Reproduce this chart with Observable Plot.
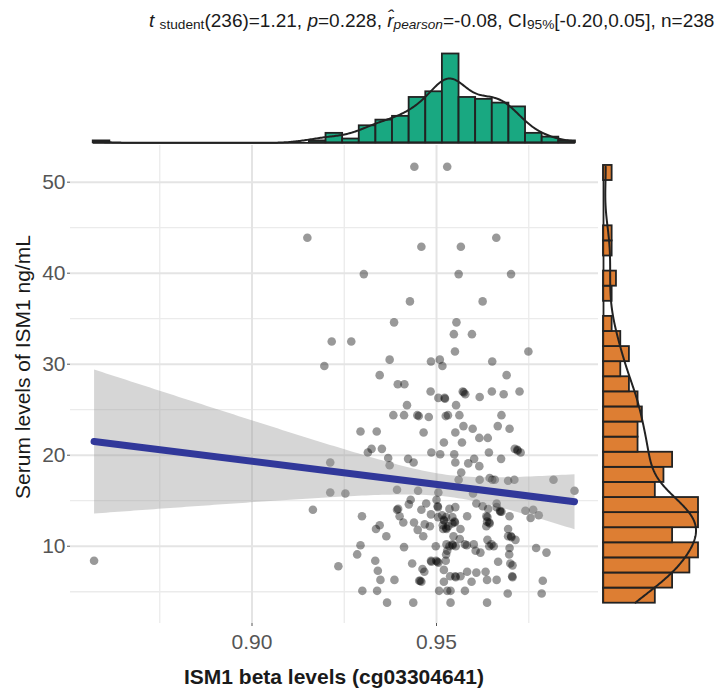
<!DOCTYPE html>
<html>
<head>
<meta charset="utf-8">
<script src="https://cdn.jsdelivr.net/npm/d3@7"></script>
<script src="https://cdn.jsdelivr.net/npm/@observablehq/plot@0.6"></script>
<style>
  html, body { margin: 0; padding: 0; background: #fff; }
  #wrap { position: relative; width: 725px; height: 694px; overflow: hidden; font-family: "Liberation Sans", Arial, Helvetica, sans-serif; }
  #wrap svg { position: absolute; left: 0; top: 0; }
  .txt { position: absolute; white-space: nowrap; color: #1a1a1a; }
  .sub { font-size: 0.72em; vertical-align: -0.18em; }
</style>
</head>
<body>
<div id="wrap">
  <div class="txt" id="title" style="left:149px; top:11px; font-size:19px; line-height:19px;"><i>t</i> <span class="sub">student</span>(236)=1.21, <i>p</i>=0.228, <i>r&#770;</i><span class="sub"><i>pearson</i></span>=-0.08, CI<span class="sub">95%</span>[-0.20,0.05], n=238</div>
  <div class="txt" id="ytitle" style="left:21.5px; top:367px; font-size:21px; line-height:21px; transform: translate(-50%,-50%) rotate(-90deg);">Serum levels of ISM1 ng/mL</div>
  <div class="txt" id="xtitle" style="left:334px; top:666px; font-size:21px; line-height:21px; font-weight:bold; transform: translateX(-50%);">ISM1 beta levels (cg03304641)</div>
</div>
<script>
// ---- data ----
const xVals = [0.9440,0.9529,0.9150,0.9662,0.9459,0.9566,0.9303,0.9560,0.9702,0.9428,
0.9625,0.9385,0.9554,0.9547,0.9596,0.9216,0.9269,0.9550,0.9749,0.9373,
0.9485,0.9509,0.9651,0.9196,0.9516,0.9346,0.9690,0.9395,0.9413,0.9484,
0.9571,0.9578,0.9650,0.9682,0.9725,0.9505,0.9522,0.9617,0.8572,0.9420,
0.9553,0.9383,0.9412,0.9448,0.9452,0.9479,0.9525,0.9531,0.9562,0.9676,
0.9573,0.9666,0.9294,0.9338,0.9465,0.9551,0.9598,0.9698,0.9616,0.9639,
0.9520,0.9569,0.9324,0.9352,0.9314,0.9712,0.9719,0.9728,0.9486,0.9510,
0.9548,0.9642,0.9369,0.9423,0.9602,0.9675,0.9212,0.9373,0.9438,0.9551,
0.9586,0.9616,0.9567,0.9560,0.9617,0.9644,0.9651,0.9658,0.9694,0.9711,
0.9817,0.9874,0.9212,0.9253,0.9393,0.9450,0.9505,0.9599,0.9165,0.9430,
0.9425,0.9393,0.9396,0.9459,0.9472,0.9500,0.9503,0.9535,0.9551,0.9608,
0.9625,0.9663,0.9663,0.9672,0.9676,0.9640,0.9741,0.9762,0.9755,0.9777,
0.9298,0.9400,0.9485,0.9504,0.9515,0.9520,0.9526,0.9543,0.9549,0.9583,
0.9635,0.9637,0.9698,0.9410,0.9439,0.9449,0.9468,0.9482,0.9517,0.9526,
0.9532,0.9543,0.9565,0.9635,0.9643,0.9346,0.9336,0.9364,0.9464,0.9518,
0.9546,0.9694,0.9694,0.9702,0.9714,0.9563,0.9638,0.9294,0.9412,0.9498,
0.9527,0.9535,0.9543,0.9552,0.9577,0.9601,0.9606,0.9619,0.9643,0.9649,
0.9655,0.9698,0.9697,0.9770,0.9798,0.9285,0.9529,0.9526,0.9334,0.9434,
0.9485,0.9499,0.9505,0.9525,0.9667,0.9700,0.9706,0.9234,0.9341,0.9462,
0.9467,0.9520,0.9537,0.9551,0.9565,0.9583,0.9608,0.9633,0.9663,0.9705,
0.9348,0.9386,0.9453,0.9459,0.9520,0.9595,0.9637,0.9788,0.9299,0.9339,
0.9507,0.9529,0.9538,0.9577,0.9693,0.9785,0.9366,0.9437,0.9538,0.9637,
0.9504,0.9502,0.9456,0.9706,0.9720,0.9673,0.9703,0.9523,0.9574,0.9521,
0.9544,0.9644,0.9552,0.9527,0.9486,0.9582,0.9638,0.9550];

const yVals = [51.7,51.7,43.9,43.9,42.9,42.9,39.9,39.9,39.9,36.9,
36.9,34.6,34.6,33.3,33.3,32.5,32.5,31.4,31.4,30.5,
30.3,30.5,30.3,29.8,29.8,28.8,28.8,27.8,27.8,27.0,
27.0,26.7,27.0,26.7,27.0,26.3,26.3,26.4,8.4,25.5,
25.5,24.4,24.4,24.4,24.3,24.2,24.3,24.4,24.4,24.4,
23.2,23.2,22.6,22.6,22.5,22.5,22.9,22.9,21.9,21.9,
21.4,21.4,20.7,20.7,20.3,20.7,20.6,20.3,20.3,20.1,
20.1,20.3,19.7,19.6,19.6,19.6,19.2,18.9,19.2,19.2,
19.1,18.8,18.1,17.3,17.3,17.5,17.3,17.3,17.2,17.3,
17.3,16.1,15.9,15.8,16.2,16.1,15.9,15.8,14.0,15.1,
14.6,14.0,14.1,14.0,14.7,15.1,14.4,14.1,14.3,14.7,
14.4,14.7,14.3,13.9,13.8,14.1,13.9,14.0,13.1,13.4,
13.3,13.3,13.5,13.2,13.4,12.9,13.2,13.2,12.7,13.3,
13.3,12.7,13.3,12.6,12.6,11.8,12.4,12.2,12.3,12.0,
12.2,12.5,11.9,12.2,12.6,12.3,11.9,11.1,11.1,11.9,
11.1,11.9,11.1,11.1,10.7,10.8,10.7,10.1,9.9,10.0,
10.2,10.0,10.2,10.0,10.2,10.2,9.5,9.3,10.0,10.2,
10.0,9.8,9.1,9.8,9.3,9.1,9.5,9.1,8.4,8.1,
8.4,8.4,8.2,8.4,8.3,8.1,7.9,7.8,7.3,7.5,
7.2,7.4,6.7,6.7,6.7,7.2,7.1,7.2,6.3,6.7,
6.3,6.3,6.2,6.1,6.1,6.1,6.3,6.2,5.1,5.1,
5.1,5.1,5.1,5.1,4.8,4.8,3.8,3.8,3.8,3.8,
14.3,8.3,6.2,6.6,20.5,13.8,11.0,26.2,26.9,12.8,
10.1,12.5,6.6,11.9,8.3,10.1,13.2,12.6];

// marginal histogram of x (left to right)
const xBinStart = 0.85697;
const xBinWidth = 0.004506;
const xBinCounts = [1,0,0,0,0,0,0,0,0,0,0,0,0,1,5,2,9,12,14,24,27,47,24,23,21,19,5,3,1];

// marginal histogram of y (bottom to top)
const yBinStart = 3.74;
const yBinWidth = 1.6586;
const yBinCounts = [12,16,20,22,16,22,22,12,14,16,8,8,9,8,6,4,6,4,2,0,2,3,0,2,2,0,0,0,2];

// axis ticks and grid
const xTicks = [0.90, 0.95];
const xMinor = [0.875, 0.925, 0.975];
const yTicks = [10, 20, 30, 40, 50];
const yMinor = [5, 15, 25, 35, 45];

const xDomain = [0.85081, 0.9939];
const yDomain = [1.51, 54.03];

// ---- derived tables ----
const points = xVals.map((x, i) => ({x, y: yVals[i]}));
const xBins = xBinCounts.map((c, i) => ({lo: xBinStart + i * xBinWidth, hi: xBinStart + (i + 1) * xBinWidth, count: c}));
const yBins = yBinCounts.map((c, i) => ({lo: yBinStart + i * yBinWidth, hi: yBinStart + (i + 1) * yBinWidth, count: c}));

function kde(values, scale) {
  const n = values.length;
  const sd = d3.deviation(values);
  const iqr = d3.quantile(values, 0.75) - d3.quantile(values, 0.25);
  const bw = 0.9 * Math.min(sd, iqr / 1.34) * Math.pow(n, -0.2);
  const [a, b] = d3.extent(values);
  const m = 400;
  return d3.range(m).map(i => {
    const t = a + (b - a) * i / (m - 1);
    const d = d3.sum(values, v => Math.exp(-0.5 * ((t - v) / bw) ** 2)) / (n * bw * Math.sqrt(2 * Math.PI));
    return {t, d: d * n * scale};
  });
}
const xDens = kde(xVals, xBinWidth);
const yDens = kde(yVals, yBinWidth);

const wrapEl = document.getElementById("wrap");
const fontStack = '"Liberation Sans", Arial, Helvetica, sans-serif';

// ---- main scatter panel ----
const mainPlot = Plot.plot({
  width: 725, height: 694,
  marginLeft: 70, marginRight: 127, marginTop: 145, marginBottom: 71,
  style: {background: "transparent", fontFamily: fontStack, fontSize: "21px", color: "#555"},
  x: {domain: xDomain, ticks: xTicks, tickFormat: d3.format(".2f"), tickSize: 3, tickPadding: 8, label: null},
  y: {domain: yDomain, ticks: yTicks, tickSize: 3, tickPadding: 2, label: null},
  marks: [
    Plot.ruleY(yMinor, {stroke: "#ebebeb", strokeWidth: 1.3}),
    Plot.ruleX(xMinor, {stroke: "#ebebeb", strokeWidth: 1.3}),
    Plot.ruleY(yTicks, {stroke: "#e4e4e4", strokeWidth: 2}),
    Plot.ruleX(xTicks, {stroke: "#e4e4e4", strokeWidth: 2}),
    Plot.dot(points, {x: "x", y: "y", r: 4.3, fill: "black", fillOpacity: 0.4}),
    Plot.linearRegressionY(points, {x: "x", y: "y", ci: 0.95, stroke: "#31389a", strokeWidth: 7, fill: "#999999", fillOpacity: 0.4})
  ]
});
wrapEl.appendChild(mainPlot);

// ---- top marginal histogram ----
const topPlot = Plot.plot({
  width: 725, height: 145,
  marginLeft: 70, marginRight: 127, marginTop: 53.5, marginBottom: 2.7,
  style: {background: "transparent"},
  x: {domain: xDomain, axis: null},
  y: {domain: [0, 47], axis: null},
  marks: [
    Plot.ruleY([{lo: xBins[0].lo, hi: xBins[xBins.length - 1].hi}], {y: 0, x1: "lo", x2: "hi", stroke: "#222", strokeWidth: 1.8}),
    Plot.rectY(xBins, {x1: "lo", x2: "hi", y: "count", fill: "#009E73", fillOpacity: 0.9, stroke: "#222", strokeWidth: 1.8}),
    Plot.line(xDens, {x: "t", y: "d", stroke: "#222", strokeWidth: 2})
  ]
});
wrapEl.appendChild(topPlot);

// ---- right marginal histogram ----
const rightPlot = Plot.plot({
  width: 725, height: 694,
  marginLeft: 603, marginRight: 27, marginTop: 145, marginBottom: 71,
  style: {background: "transparent"},
  x: {domain: [0, 22], axis: null},
  y: {domain: yDomain, axis: null},
  marks: [
    Plot.ruleX([{lo: yBins[0].lo, hi: yBins[yBins.length - 1].hi}], {x: 0, y1: "lo", y2: "hi", stroke: "#222", strokeWidth: 1.8}),
    Plot.rectX(yBins, {y1: "lo", y2: "hi", x: "count", fill: "#D55E00", fillOpacity: 0.8, stroke: "#222", strokeWidth: 1.8}),
    Plot.line(yDens, {x: "d", y: "t", stroke: "#222", strokeWidth: 2})
  ]
});
wrapEl.appendChild(rightPlot);
</script>
</body>
</html>
